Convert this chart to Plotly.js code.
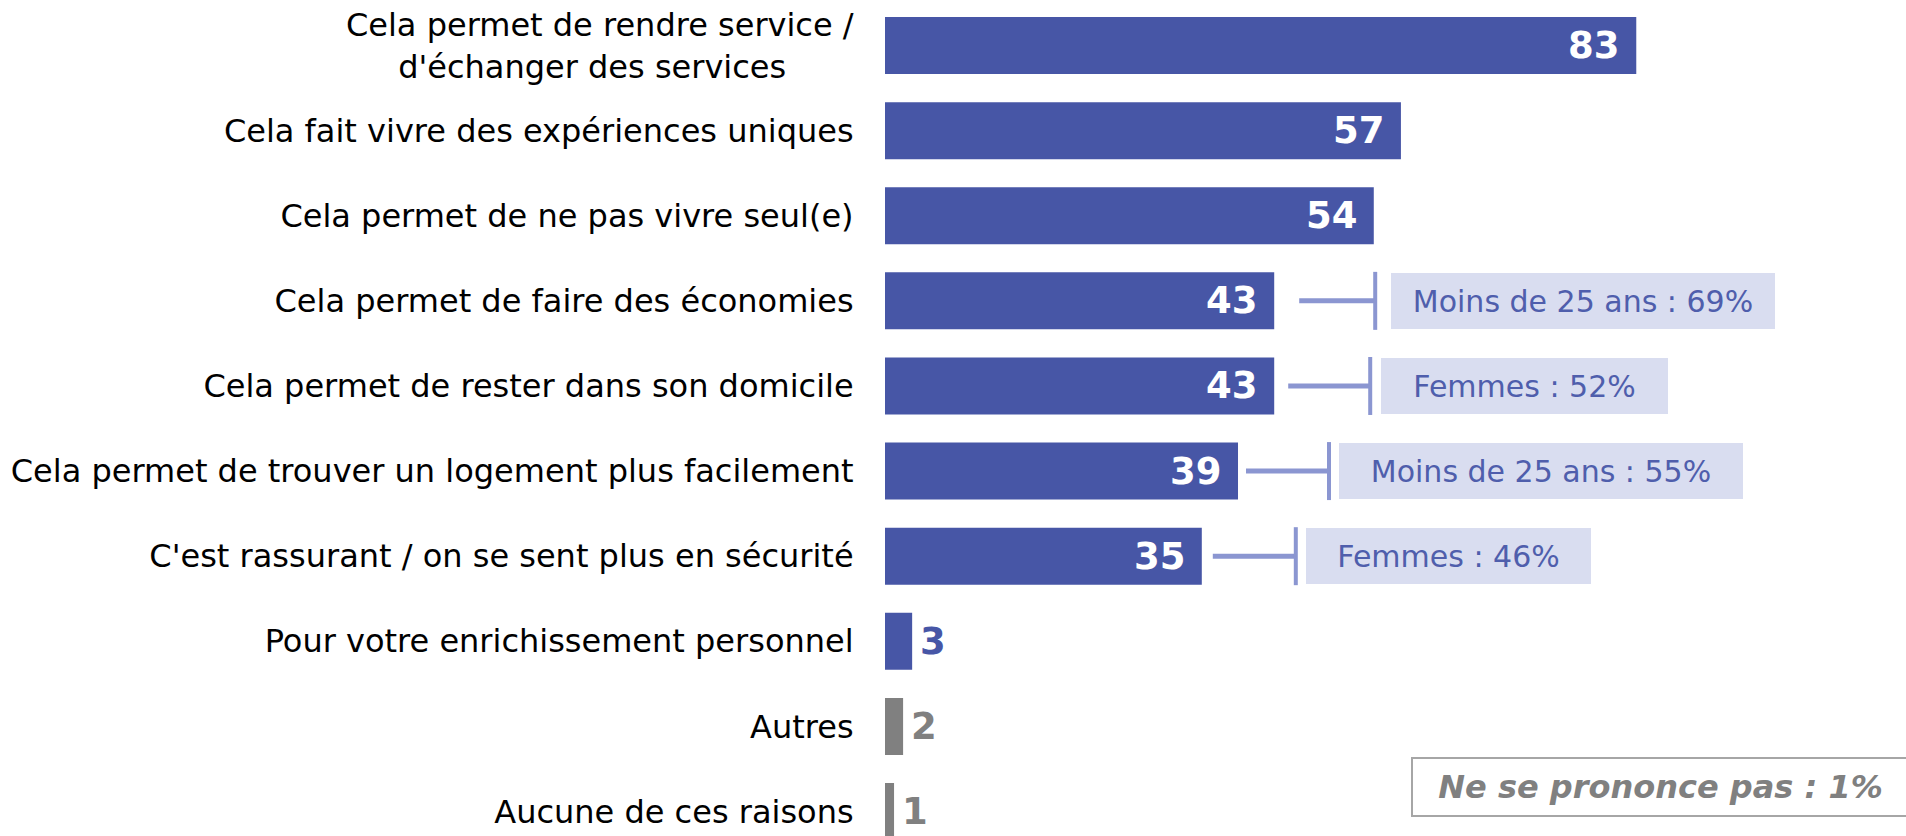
<!DOCTYPE html>
<html>
<head>
<meta charset="utf-8">
<script src="https://cdn.plot.ly/plotly-3.0.1.min.js"></script>
<style>html,body{margin:0;padding:0;background:#fff;}#chart{width:1906px;height:836px;}</style>
</head>
<body>
<div id="chart"></div>
<script>
// ---- data ----
const categories = [
  "Cela permet de rendre service /<br>d'échanger des services\u00A0\u00A0\u00A0\u00A0\u00A0\u00A0\u2009",
  "Cela fait vivre des expériences uniques",
  "Cela permet de ne pas vivre seul(e)",
  "Cela permet de faire des économies",
  "Cela permet de rester dans son domicile",
  "Cela permet de trouver un logement plus facilement",
  "C'est rassurant / on se sent plus en sécurité",
  "Pour votre enrichissement personnel",
  "Autres",
  "Aucune de ces raisons"
];
const values = [83, 57, 54, 43, 43, 39, 35, 3, 2, 1];
const valueLabels = ["83", "57", "54", "43", "43", "39", "35", "3", "2", "1"];
const calloutRows = [3, 4, 5, 6];
const calloutTexts = ["Moins de 25 ans : 69%", "Femmes : 52%", "Moins de 25 ans : 55%", "Femmes : 46%"];
const noOpinionText = "Ne se prononce pas : 1%";

// ---- styles ----
const BLUE = "#4756A6";
const GRAY = "#808080";
const barColors = [BLUE, BLUE, BLUE, BLUE, BLUE, BLUE, BLUE, BLUE, GRAY, GRAY];
const labelInside = [true, true, true, true, true, true, true, false, false, false];
const labelColors = ["#fff","#fff","#fff","#fff","#fff","#fff","#fff", BLUE, GRAY, GRAY];
const FONT = "DejaVu Sans, Verdana, sans-serif";
// callout offsets in px from bar end: [line start, vertical bar, box left], box width
const calloutOffsets = [[25, 101, 117], [14, 96, 107], [8, 91, 101], [11, 94, 104]];
const calloutWidths = [384, 287, 404, 285];
const LINE_COLOR = "#8B96D1";

const idx = categories.map((_, i) => i);

const trace = {
  type: "bar",
  orientation: "h",
  x: values,
  y: idx,
  marker: { color: barColors, line: { width: 0 } },
  hoverinfo: "skip",
  cliponaxis: false
};

const annotations = [];
values.forEach((v, i) => {
  annotations.push({
    xref: "x", yref: "y", x: v, y: i,
    text: valueLabels[i],
    showarrow: false,
    xanchor: labelInside[i] ? "right" : "left",
    xshift: labelInside[i] ? -14 : 6,
    yanchor: "middle",
    font: { family: FONT, size: 37, color: labelColors[i], weight: "bold" }
  });
});

const shapes = [];
calloutRows.forEach((r, k) => {
  const [ls, vb, bl] = calloutOffsets[k];
  shapes.push({
    type: "line", xref: "x", yref: "y", xsizemode: "pixel", xanchor: values[r],
    x0: ls, x1: vb, y0: r, y1: r,
    line: { color: LINE_COLOR, width: 5 }
  });
  shapes.push({
    type: "line", xref: "x", yref: "y", xsizemode: "pixel", xanchor: values[r],
    ysizemode: "pixel", yanchor: r,
    x0: vb, x1: vb, y0: -29, y1: 29,
    line: { color: LINE_COLOR, width: 4 }
  });
  annotations.push({
    xref: "x", yref: "y", x: values[r], y: r,
    xanchor: "left", yanchor: "middle", xshift: bl,
    text: calloutTexts[k], showarrow: false,
    width: calloutWidths[k], height: 56, align: "center", valign: "middle",
    bgcolor: "#D9DDF0", borderpad: 0, borderwidth: 0,
    font: { family: FONT, size: 30, color: "#4F5EAC" }
  });
});

annotations.push({
  xref: "paper", yref: "paper", x: 0.515, y: 0.0588,
  xanchor: "left", yanchor: "middle",
  text: "<b><i>" + noOpinionText + "</i></b>", showarrow: false,
  width: 495, height: 56, align: "center", valign: "middle",
  bgcolor: "#fff", bordercolor: "#A6A6A6", borderwidth: 2, borderpad: 0,
  font: { family: FONT, size: 32, color: GRAY }
});

const layout = {
  width: 1906, height: 836,
  margin: { l: 885, r: 0, t: 3, b: 0, pad: 0 },
  paper_bgcolor: "#fff", plot_bgcolor: "#fff",
  showlegend: false,
  bargap: 0.33,
  xaxis: { range: [0, 112.8], showgrid: false, zeroline: false, showline: false, showticklabels: false, ticks: "", fixedrange: true },
  yaxis: {
    type: "linear",
    range: [9.288, -0.5],
    tickmode: "array", tickvals: idx, ticktext: categories,
    showgrid: false, zeroline: false, showline: false,
    ticks: "outside", ticklen: 24, tickcolor: "rgba(0,0,0,0)",
    tickfont: { family: FONT, size: 32, color: "#000" },
    fixedrange: true
  },
  annotations: annotations,
  shapes: shapes
};

Plotly.newPlot("chart", [trace], layout, { displayModeBar: false, staticPlot: true });
</script>
</body>
</html>
